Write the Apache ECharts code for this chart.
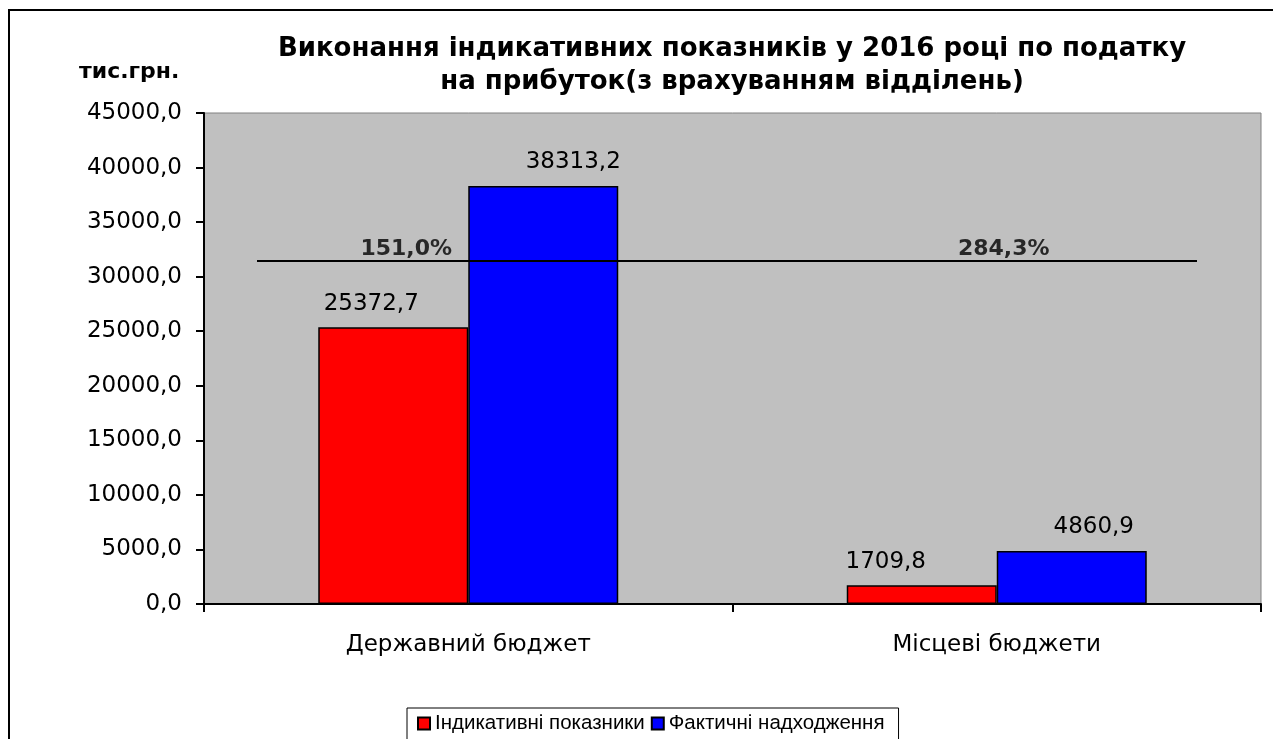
<!DOCTYPE html>
<html>
<head>
<meta charset="utf-8">
<script src="https://cdn.jsdelivr.net/npm/echarts@6/dist/echarts.min.js"></script>
<style>
  html, body { margin: 0; padding: 0; background: #fff; }
  #chart { width: 1273px; height: 739px; }
</style>
</head>
<body>
<div id="chart"></div>
<script>
// дані з діаграми
const categories = ['Державний бюджет', 'Місцеві бюджети']
const planValues = [25372.7, 1709.8]   // Індикативні показники
const factValues = [38313.2, 4860.9]   // Фактичні надходження
const seriesNames = ['Індикативні показники', 'Фактичні надходження']
const ratioLineLevel = 31500           // рівень горизонтальної лінії з відсотками
const yMax = 45000
const yStep = 5000

const wide = 'DejaVu Sans, Verdana, sans-serif'
const narrow = 'Liberation Sans, Arial, sans-serif'
const fmt = v => v.toFixed(1).replace('.', ',')

// зсуви підписів як в Excel (не по центру стовпчиків)
const planLabelShift = [-22, -36]
const factLabelShift = [30, 22]
const ratioLabelShift = [-62, 7]

const ratioData = categories.map((c, i) => ({
  value: [c, ratioLineLevel],
  label: {
    formatter: fmt(factValues[i] / planValues[i] * 100) + '%',
    offset: [ratioLabelShift[i], 0]
  }
}))

const barData = (values, shifts) => values.map((v, i) => ({
  value: v,
  label: { offset: [shifts[i], 0] }
}))

const chart = echarts.init(document.getElementById('chart'))
const option = {
  animation: false,
  textStyle: { fontFamily: wide },
  title: [
    {
      text: 'Виконання індикативних показників у 2016 році по податку\nна прибуток(з врахуванням відділень)',
      left: 727,
      top: 28,
      textAlign: 'center',
      textStyle: { fontSize: 26, fontWeight: 'bold', color: '#000', lineHeight: 33, fontFamily: wide }
    },
    {
      text: 'тис.грн.',
      left: 74,
      top: 56,
      textStyle: { fontSize: 22, fontWeight: 'bold', color: '#000', fontFamily: wide }
    }
  ],
  legend: {
    data: seriesNames,
    left: 407,
    top: 708,
    icon: 'rect',
    itemWidth: 12,
    itemHeight: 12,
    itemGap: 6,
    borderColor: '#000',
    borderWidth: 1,
    borderRadius: 0,
    padding: [5, 14, 10, 10],
    textStyle: { fontSize: 20.5, color: '#000', fontFamily: narrow }
  },
  grid: {
    left: 204,
    right: 12,
    top: 113,
    bottom: 135,
    show: true,
    backgroundColor: '#c0c0c0',
    borderColor: '#808080',
    borderWidth: 1
  },
  xAxis: {
    type: 'category',
    data: categories,
    axisLine: { lineStyle: { color: '#000', width: 2 } },
    axisTick: { show: true, length: 8, lineStyle: { color: '#000', width: 2 } },
    axisLabel: { fontSize: 23, color: '#000', margin: 30, fontFamily: wide }
  },
  yAxis: {
    type: 'value',
    min: 0,
    max: yMax,
    interval: yStep,
    axisLine: { show: true, lineStyle: { color: '#000', width: 2 } },
    axisTick: { show: true, length: 8, lineStyle: { color: '#000', width: 2 } },
    splitLine: { show: false },
    axisLabel: { fontSize: 23, color: '#000', margin: 22, formatter: fmt, fontFamily: wide }
  },
  series: [
    {
      name: seriesNames[0],
      type: 'bar',
      data: barData(planValues, planLabelShift),
      barWidth: 150,
      barGap: '0%',
      itemStyle: { color: '#ff0000', borderColor: '#000', borderWidth: 1.5 },
      label: {
        show: true, position: 'top', distance: 12,
        fontSize: 23, color: '#000', formatter: p => fmt(p.value), fontFamily: wide
      },
      z: 2
    },
    {
      name: seriesNames[1],
      type: 'bar',
      data: barData(factValues, factLabelShift),
      barWidth: 150,
      barGap: '0%',
      itemStyle: { color: '#0000ff', borderColor: '#000', borderWidth: 1.5 },
      label: {
        show: true, position: 'top', distance: 12,
        fontSize: 23, color: '#000', formatter: p => fmt(p.value), fontFamily: wide
      },
      markLine: {
        silent: true,
        symbol: 'none',
        lineStyle: { color: '#000', width: 2, type: 'solid' },
        label: { show: false },
        data: [[{ x: 257, yAxis: ratioLineLevel }, { x: 1197, yAxis: ratioLineLevel }]]
      },
      z: 2
    },
    {
      name: 'ratio',
      type: 'scatter',
      data: ratioData,
      symbolSize: 0,
      silent: true,
      label: {
        show: true, position: 'top', distance: 0,
        fontSize: 22, fontWeight: 'bold', color: '#000', fontFamily: wide
      },
      z: 5
    }
  ],
  graphic: [
    {
      type: 'rect',
      shape: { x: 9, y: 10, width: 1300, height: 800 },
      style: { fill: 'none', stroke: '#000', lineWidth: 2 },
      silent: true,
      z: -1
    }
  ]
}
chart.setOption(option)
</script>
</body>
</html>
